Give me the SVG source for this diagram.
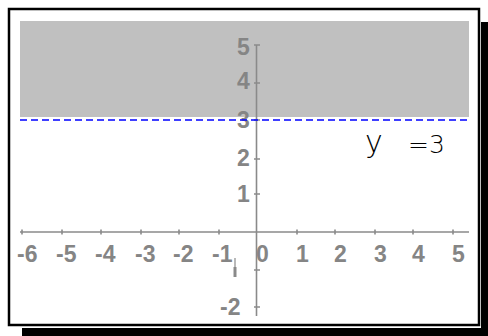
<svg xmlns="http://www.w3.org/2000/svg" width="488" height="336" viewBox="0 0 488 336">
<style>
.ax{stroke:#8a8a8a;stroke-width:1.6;fill:none}
.lbl{font-family:"Liberation Sans",Arial,sans-serif;font-size:23px;font-weight:bold;fill:#858585}
.eq{font-family:"DejaVu Sans",sans-serif;font-size:25px;font-weight:200;fill:#000}
</style>
<rect width="488" height="336" fill="#fff"/>
<g id="frame">
<rect x="481" y="22" width="7" height="314" fill="#000"/>
<rect x="22" y="328" width="466" height="8" fill="#000"/>
<rect x="9" y="9" width="470" height="316" fill="#fff" stroke="#000" stroke-width="2.5"/>
</g>
<g id="shade">
<rect x="20" y="21" width="449" height="96" fill="#c0c0c0"/>
</g>
<g id="axes">
<line class="ax" x1="20" y1="232" x2="469" y2="232"/>
<line class="ax" x1="256.5" y1="45" x2="256.5" y2="316"/>
<path class="ax" d="M22 229.5v5M62 229.5v5M101 229.5v5M141 229.5v5M179 229.5v5M219 229.5v5M297 229.5v5M335 229.5v5M375 229.5v5M413 229.5v5M453 229.5v5"/>
<path class="ax" d="M254 45h6M254 83h6M254 120h6M254 159h6M254 194h6M254 270h6M254 307h6"/>
<line x1="235" y1="258" x2="235" y2="268" stroke="#8a8a8a" stroke-width="1.2"/>
<line x1="235" y1="267" x2="235" y2="277" stroke="#8a8a8a" stroke-width="3"/>
</g>
<g id="ylabels" class="lbl">
<text x="237" y="55">5</text>
<text x="237" y="89">4</text>
<text x="237" y="128">3</text>
<text x="237" y="166">2</text>
<text x="237" y="202">1</text>
<text x="220" y="315">-2</text>
</g>
<g id="xlabels" class="lbl">
<text x="17" y="262">-6</text>
<text x="56" y="262">-5</text>
<text x="95" y="262">-4</text>
<text x="135" y="262">-3</text>
<text x="173" y="262">-2</text>
<text x="212" y="262">-1</text>
<text x="256" y="262">0</text>
<text x="296" y="262">1</text>
<text x="334" y="262">2</text>
<text x="374" y="262">3</text>
<text x="412" y="262">4</text>
<text x="452" y="262">5</text>
</g>
<g id="connectors">
<line x1="20" y1="120" x2="469" y2="120" stroke="#0000ff" stroke-width="1.5" stroke-dasharray="7 4"/>
</g>
<g id="label-eq">
<text class="eq" x="365" y="152"><tspan font-size="30">y</tspan> <tspan x="408" y="153">=3</tspan></text>
</g>
</svg>
